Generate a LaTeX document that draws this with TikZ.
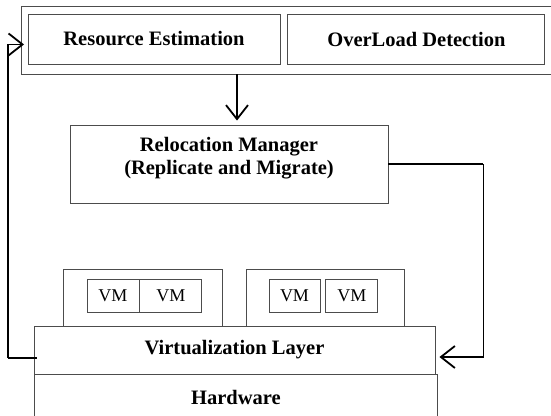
\documentclass[tikz,border=0pt]{standalone}
\usepackage{fontspec}
\setmainfont{Liberation Serif}
\usepackage{tikz}
\usetikzlibrary{arrows.meta, positioning}

\tikzset{
  block/.style={draw=black!70, line width=0.9pt, rectangle, inner sep=0pt,
    font=\fontsize{20.5}{23}\selectfont\bfseries, align=center},
  vm/.style={draw=black!70, line width=0.9pt, rectangle, inner sep=0pt,
    minimum height=33pt, font=\fontsize{18}{20}\selectfont},
  link/.style={draw=black, line width=1.1pt},
  arr/.style={link, -{Straight Barb[length=14pt, width=22pt, line width=1.8pt]}}
}

\begin{document}
\begin{tikzpicture}[x=1pt, y=-1pt]
  \useasboundingbox (0,0) rectangle (551,415);

  % monitoring part
  \node[block, anchor=north west, minimum width=545pt, minimum height=68pt] (monitor) at (21,6) {};
  \node[block, minimum width=252pt, minimum height=50pt] (estim) at (154,39) {Resource Estimation};
  \node[block, minimum width=257pt, minimum height=50pt, right=7pt of estim] (detect) {OverLoad Detection};

  \node[block, minimum width=318pt, minimum height=78pt, text depth=17pt] (reloc) at (229,164)
    {Relocation Manager\\(Replicate and Migrate)};

  % hosts with their VMs
  \node[block, minimum width=159pt, minimum height=57pt] (hostA) at (142.5,297.5) {};
  \node[block, minimum width=158pt, minimum height=57pt] (hostB) at (325,297.5) {};
  \node[vm, minimum width=52pt] (vmA1) at (113,295.5) {VM};
  \node[vm, minimum width=62pt, right=0pt of vmA1] (vmA2) {VM};
  \node[vm, minimum width=51pt] (vmB1) at (294.5,296) {VM};
  \node[vm, minimum width=52pt, right=5pt of vmB1] (vmB2) {VM};

  \node[block, fill=white, minimum width=401pt, minimum height=48pt] (virt) at (234.5,350) {Virtualization Layer};
  \node[block, anchor=north west, minimum width=403pt, minimum height=50pt, text depth=0pt] (hw) at (34,374) {\raisebox{4pt}{Hardware}};

  % connectors
  \coordinate (drop) at (237,74);
  \draw[arr, line width=1.6pt] (drop) -- ([yshift=4pt]drop |- reloc.north);
  \draw[link] (reloc.east) -- ++(95,0) coordinate (turn);
  \draw[arr] (turn) |- ([xshift=4pt, yshift=-7pt]virt.east);
  \coordinate (back) at (8,358);
  \draw[link] ([xshift=3pt, yshift=-8pt]virt.west) -- (back);
  \draw[arr] (back) |- ([xshift=3pt, yshift=-4pt]monitor.west);
\end{tikzpicture}
\end{document}
